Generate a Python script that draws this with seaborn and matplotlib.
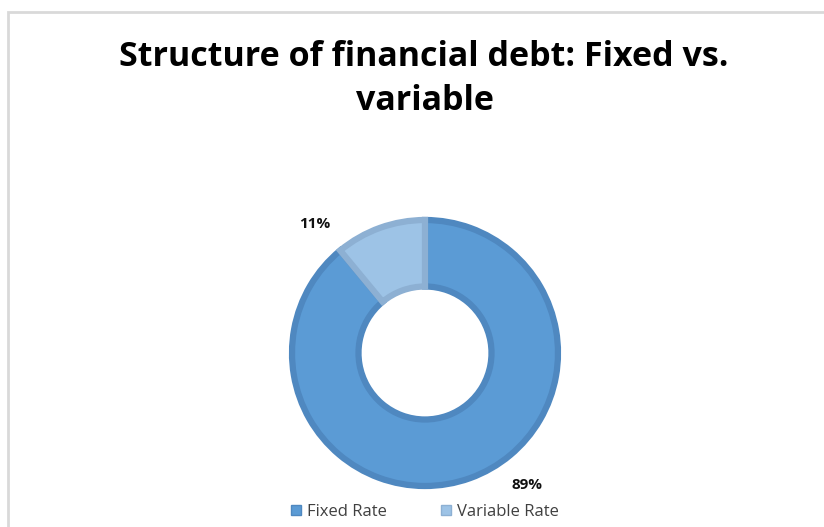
import matplotlib.pyplot as plt
import seaborn as sns
from matplotlib.patches import Rectangle

categories = ["Fixed Rate", "Variable Rate"]
shares = [89, 11]
labels = ["89%", "11%"]
colors = ["#5B9BD5", "#9DC3E6"]
edges = ["#4F88C0", "#8DB0D3"]

sns.set_style("white")
plt.rcParams['font.family'] = ['Open Sans', 'DejaVu Sans']

fig = plt.figure(figsize=(8.24, 5.27), dpi=100)
fig.patches.append(Rectangle((8/824, -0.1), 1.2, 1 - 12/527 + 0.1, transform=fig.transFigure,
                             fill=False, edgecolor="#D9D9D9", linewidth=2))

ax = fig.add_axes([(425-133)/824, 1-(353+133)/527, 266/824, 266/527])
wedges, _ = ax.pie(shares, colors=colors, startangle=90, counterclock=False,
                   wedgeprops=dict(width=0.5))
for w, e in zip(wedges, edges):
    w.set_edgecolor(e)
    w.set_linewidth(4.5)
ax.set_xlim(-1, 1)
ax.set_ylim(-1, 1)
ax.set_aspect("equal")

fig.text(527/824, 1-485/527, labels[0], ha="center", va="center", fontsize=11, fontweight="bold", color="#111111")
fig.text(315/824, 1-224/527, labels[1], ha="center", va="center", fontsize=11, fontweight="bold", color="#111111")

fig.text(424/824, 1-66/527, "Structure of financial debt: Fixed vs.", ha="center", va="baseline",
         fontsize=24.5, fontweight="bold", color="black")
fig.text(425/824, 1-110/527, "variable", ha="center", va="baseline",
         fontsize=24.5, fontweight="bold", color="black")

handles = [Rectangle((0, 0), 1, 1, facecolor=c, edgecolor=e) for c, e in zip(colors, edges)]
fig.legend(handles, categories, loc="center", bbox_to_anchor=(425/824, 1-512/527), ncol=2,
           frameon=False, fontsize=12, handlelength=0.6, handleheight=0.6, columnspacing=3.2,
           handletextpad=0.4, labelcolor="#404040")

fig.savefig("out.png", dpi=100)
